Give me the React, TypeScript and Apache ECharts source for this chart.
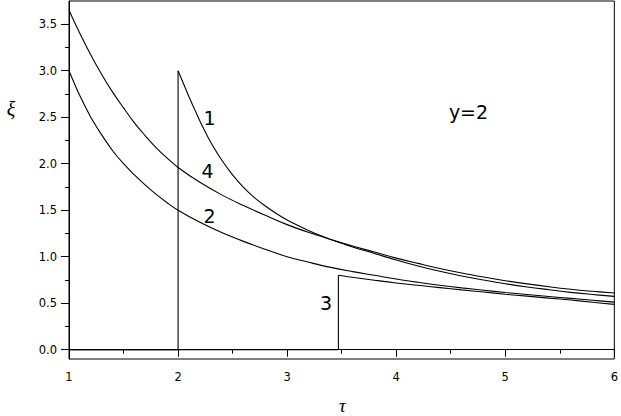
import React, { useEffect, useRef } from "react";
import * as echarts from "echarts";

// Curve 1: zero until tau=2, jumps to 3, then decays
const curve1StepX = [1, 2, 2];
const curve1StepY = [0, 0, 3.0];
const curve1X = [2.0, 2.05, 2.1, 2.15, 2.2, 2.25, 2.3, 2.4, 2.5, 2.6, 2.7, 2.8, 2.9, 3.0, 3.1, 3.2, 3.3, 3.4, 3.5, 3.6, 3.8, 4.0, 4.2, 4.4, 4.6, 4.8, 5.0, 5.2, 5.4, 5.6, 5.8, 6.0];
const curve1Y = [3.0, 2.86, 2.72, 2.59, 2.46, 2.34, 2.23, 2.04, 1.88, 1.745, 1.635, 1.545, 1.465, 1.395, 1.335, 1.28, 1.23, 1.185, 1.145, 1.105, 1.035, 0.965, 0.9, 0.843, 0.793, 0.75, 0.71, 0.675, 0.645, 0.617, 0.594, 0.573];

// Curve 2
const curve2X = [1.0, 1.1, 1.2, 1.3, 1.4, 1.5, 1.6, 1.7, 1.8, 1.9, 2.0, 2.2, 2.4, 2.6, 2.8, 3.0, 3.2, 3.4, 3.6, 3.8, 4.0, 4.2, 4.4, 4.6, 4.8, 5.0, 5.2, 5.4, 5.6, 5.8, 6.0];
const curve2Y = [3.0, 2.73, 2.5, 2.31, 2.14, 2.0, 1.88, 1.77, 1.67, 1.58, 1.5, 1.37, 1.26, 1.165, 1.08, 1.0, 0.94, 0.885, 0.84, 0.8, 0.76, 0.725, 0.693, 0.665, 0.64, 0.615, 0.593, 0.572, 0.552, 0.532, 0.512];

// Curve 3: zero until tau=3.47, jumps to 0.8, then decays
const curve3StepX = [1, 3.47, 3.47];
const curve3StepY = [0, 0, 0.8];
const curve3X = [3.47, 3.56, 3.8, 4.0, 4.2, 4.4, 4.6, 4.8, 5.0, 5.2, 5.4, 5.6, 5.8, 6.0];
const curve3Y = [0.8, 0.784, 0.747, 0.718, 0.693, 0.668, 0.643, 0.62, 0.597, 0.576, 0.555, 0.534, 0.51, 0.487];

// Curve 4
const curve4X = [1.0, 1.1, 1.2, 1.3, 1.4, 1.5, 1.6, 1.7, 1.8, 1.9, 2.0, 2.2, 2.4, 2.6, 2.8, 3.0, 3.2, 3.4, 3.6, 3.8, 4.0, 4.2, 4.4, 4.6, 4.8, 5.0, 5.2, 5.4, 5.6, 5.8, 6.0];
const curve4Y = [3.65, 3.4, 3.17, 2.96, 2.77, 2.6, 2.44, 2.3, 2.17, 2.06, 1.96, 1.8, 1.665, 1.55, 1.445, 1.345, 1.26, 1.185, 1.115, 1.05, 0.985, 0.928, 0.873, 0.824, 0.781, 0.742, 0.708, 0.677, 0.65, 0.628, 0.609];

const yMajorTicks = [0, 0.5, 1.0, 1.5, 2.0, 2.5, 3.0, 3.5];
const yMinorTicks = [0.25, 0.75, 1.25, 1.75, 2.25, 2.75, 3.25];

const curveLabels = [
  { text: "1", x: 209.5, y: 117.5 },
  { text: "4", x: 207.5, y: 171 },
  { text: "2", x: 209.5, y: 216 },
  { text: "3", x: 326, y: 303 },
  { text: "y=2", x: 468.5, y: 111.5 },
];

const zip = (xs: number[], ys: number[]) => xs.map((x, i) => [x, ys[i]]);

export default function App() {
  const ref = useRef<HTMLDivElement>(null);
  useEffect(() => {
    if (!ref.current) return;
    const chart = echarts.init(ref.current, null, { renderer: "svg" });
    const lineSeries = (name: string, xs: number[], ys: number[], smooth: boolean) => ({
      name,
      type: "line",
      data: zip(xs, ys),
      showSymbol: false,
      symbol: "none",
      smooth: smooth ? 0.4 : false,
      lineStyle: { color: "#000", width: 1.1 },
      xAxisIndex: 0,
      yAxisIndex: 0,
      z: 3,
    });
    chart.setOption({
      animation: false,
      backgroundColor: "#fff",
      grid: {
        left: 69,
        top: 1,
        right: 3,
        bottom: 57,
        show: true,
        borderColor: "#000",
        borderWidth: 1,
        backgroundColor: "transparent",
      },
      xAxis: {
        type: "value",
        min: 1,
        max: 6,
        interval: 1,
        axisLine: { show: true, lineStyle: { color: "#000", width: 1 } },
        axisTick: { show: true, inside: false, length: 7, lineStyle: { color: "#000" } },
        minorTick: { show: true, splitNumber: 2, length: 4, lineStyle: { color: "#000" } },
        axisLabel: { color: "#000", fontFamily: "DejaVu Sans", fontSize: 11.5, margin: 12 },
        splitLine: { show: false },
      },
      yAxis: [
        {
          type: "value",
          min: -0.1,
          max: 3.75,
          position: "left",
          axisLine: { show: true, onZero: false, lineStyle: { color: "#000", width: 1 } },
          axisTick: { show: true, inside: false, length: 8, customValues: yMajorTicks, lineStyle: { color: "#000" } },
          axisLabel: {
            color: "#000",
            fontFamily: "DejaVu Sans",
            fontSize: 11.5,
            margin: 12,
            customValues: yMajorTicks,
            formatter: (v: number) => v.toFixed(1),
          },
          splitLine: { show: false },
        },
        {
          type: "value",
          min: -0.1,
          max: 3.75,
          position: "left",
          axisLine: { show: false },
          axisTick: { show: true, inside: false, length: 4, customValues: yMinorTicks, lineStyle: { color: "#000" } },
          axisLabel: { show: false },
          splitLine: { show: false },
        },
      ],
      series: [
        lineSeries("1a", curve1StepX, curve1StepY, false),
        lineSeries("1", curve1X, curve1Y, true),
        lineSeries("2", curve2X, curve2Y, true),
        lineSeries("3a", curve3StepX, curve3StepY, false),
        lineSeries("3", curve3X, curve3Y, true),
        lineSeries("4", curve4X, curve4Y, true),
      ],
      graphic: [
        ...curveLabels.map((l) => ({
          type: "text",
          x: l.x,
          y: l.y,
          style: {
            text: l.text,
            fill: "#000",
            font: "19px 'DejaVu Sans'",
            align: "center",
            verticalAlign: "middle",
          },
        })),
        {
          type: "text",
          x: 11,
          y: 109,
          style: {
            text: "ξ",
            fill: "#000",
            font: "italic 20px 'Liberation Serif'",
            align: "center",
            verticalAlign: "middle",
          },
        },
        {
          type: "text",
          x: 342.5,
          y: 415,
          style: {
            text: "τ",
            fill: "#000",
            font: "italic 19px 'Liberation Serif'",
            align: "center",
            verticalAlign: "bottom",
          },
        },
      ],
    });
    return () => chart.dispose();
  }, []);
  return (
    <div
      ref={ref}
      style={{ position: "fixed", left: 0, top: 0, width: 621, height: 416 }}
    />
  );
}
